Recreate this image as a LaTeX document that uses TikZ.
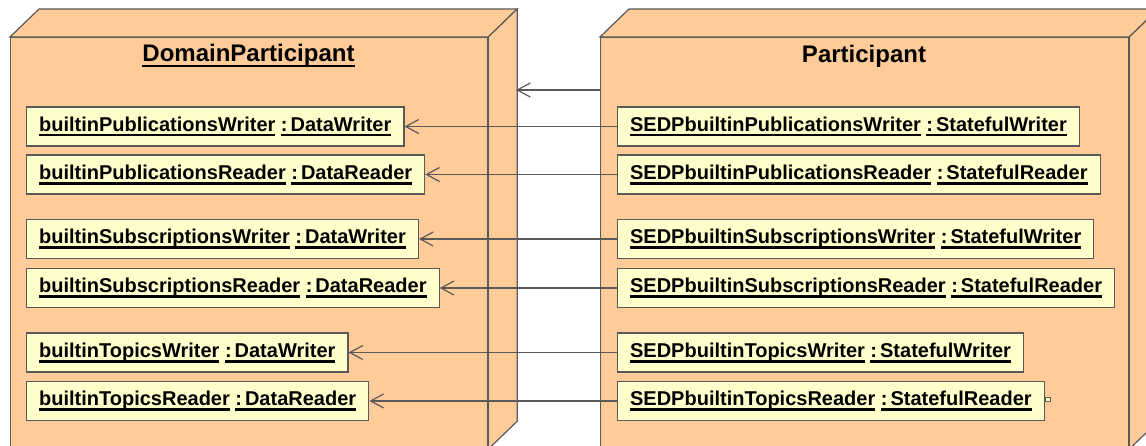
\documentclass[tikz,border=0pt]{standalone}
\usepackage{fontspec}
\setmainfont{Liberation Sans}
\usetikzlibrary{arrows.meta}
\definecolor{peach}{HTML}{FFCC99}
\definecolor{objfill}{HTML}{FFFFCC}
\definecolor{edgegray}{HTML}{595959}
\newsavebox{\myulbox}
\newcommand{\myul}[1]{\sbox{\myulbox}{#1}\rlap{\rule[-5.5pt]{\wd\myulbox}{2.6pt}}\usebox{\myulbox}}
\newcommand{\objlabel}[2]{\myul{#1}\ \myul{:\hspace{3pt}#2}}
\tikzset{
  face/.style={fill=peach, draw=edgegray, line width=1.2pt, line join=miter},
  obj/.style={draw=edgegray, fill=objfill, line width=1.2pt, anchor=west,
    minimum height=39pt, inner xsep=12.5pt, inner ysep=0pt,
    font=\fontsize{20}{24}\selectfont\bfseries},
  link/.style={draw=edgegray, line width=1.2pt, -{Straight Barb[length=13pt,width=14pt]}},
  titletext/.style={font=\fontsize{24}{28}\selectfont\bfseries, inner sep=0pt},
  port/.style={draw=edgegray, fill=objfill, line width=0.8pt, minimum width=5pt,
    minimum height=4pt, inner sep=0pt, anchor=west}
}
\begin{document}
\begin{tikzpicture}[x=1pt,y=-1pt]
\useasboundingbox (0,0) rectangle (1146,445);
\begin{scope}
\clip (0,0) rectangle (1146,445);
% DomainParticipant node
\node[face, minimum width=477pt, minimum height=411pt, inner sep=0pt, anchor=north west] (dp) at (10,37) {};
\draw[face] (dp.north west) -- ++(29,-28) -- ([shift={(29,-28)}]dp.north east) -- (dp.north east) -- cycle;
\draw[face] (dp.north east) -- ++(29,-28) -- ([shift={(29,-28)}]dp.south east) -- (dp.south east) -- cycle;
% Participant node
\node[face, minimum width=528pt, minimum height=411pt, inner sep=0pt, anchor=north west] (p) at (600,37) {};
\draw[face] (p.north west) -- ++(29,-28) -- ([shift={(29,-28)}]p.north east) -- (p.north east) -- cycle;
\draw[face] (p.north east) -- ++(29,-28) -- ([shift={(29,-28)}]p.south east) -- (p.south east) -- cycle;
\end{scope}
% titles
\node[titletext] (dpt) at (248.5,56) {\myul{DomainParticipant}};
\node[titletext] (pt) at (864,56) {Participant};
% DomainParticipant objects
\node[obj] (dpw1) at (26,126.5) {\objlabel{builtinPublicationsWriter}{DataWriter}};
\node[obj] (dpr1) at (26,174.5) {\objlabel{builtinPublicationsReader}{DataReader}};
\node[obj] (dpw2) at (26,239) {\objlabel{builtinSubscriptionsWriter}{DataWriter}};
\node[obj] (dpr2) at (26,288) {\objlabel{builtinSubscriptionsReader}{DataReader}};
\node[obj] (dpw3) at (26,352.5) {\objlabel{builtinTopicsWriter}{DataWriter}};
\node[obj] (dpr3) at (26,401) {\objlabel{builtinTopicsReader}{DataReader}};
% Participant objects
\node[obj] (spw1) at (617,126.5) {\objlabel{SEDPbuiltinPublicationsWriter}{StatefulWriter}};
\node[obj] (spr1) at (617,174.5) {\objlabel{SEDPbuiltinPublicationsReader}{StatefulReader}};
\node[obj] (spw2) at (617,239) {\objlabel{SEDPbuiltinSubscriptionsWriter}{StatefulWriter}};
\node[obj] (spr2) at (617,288) {\objlabel{SEDPbuiltinSubscriptionsReader}{StatefulReader}};
\node[obj] (spw3) at (617,352.5) {\objlabel{SEDPbuiltinTopicsWriter}{StatefulWriter}};
\node[obj] (spr3) at (617,401) {\objlabel{SEDPbuiltinTopicsReader}{StatefulReader}};
\node[port] (sprport) at ([yshift=2pt]spr3.east) {};
% connectors
\coordinate (dpback) at (516,90);
\draw[link] (p.west |- dpback) -- (dpback);
\draw[link] (spw1) -- (dpw1);
\draw[link] (spr1) -- (dpr1);
\draw[link] (spw2) -- (dpw2);
\draw[link] (spr2) -- (dpr2);
\draw[link] (spw3) -- (dpw3);
\draw[link] (spr3) -- (dpr3);
\end{tikzpicture}
\end{document}
